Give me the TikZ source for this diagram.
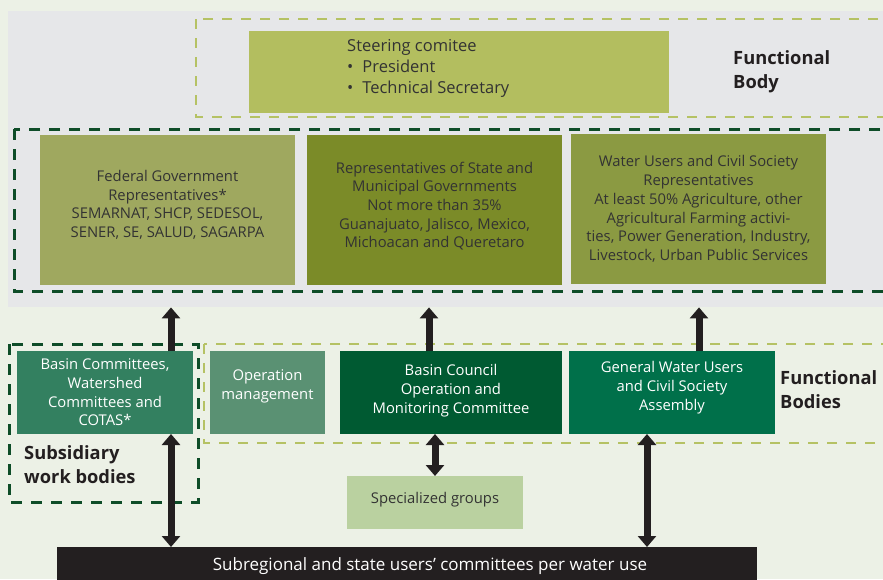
\documentclass[tikz,border=0pt]{standalone}
\usepackage{fontspec}
\setmainfont{Open Sans}
\usetikzlibrary{arrows.meta}
\definecolor{bgc}{HTML}{ECF1E6}
\definecolor{panelc}{HTML}{E6E7E9}
\definecolor{darkdash}{HTML}{0E4D28}
\definecolor{lightdash}{HTML}{B5C264}
\definecolor{steerc}{HTML}{B3BE5F}
\definecolor{fedc}{HTML}{9FA85F}
\definecolor{statec}{HTML}{7B8B28}
\definecolor{waterc}{HTML}{8B9A42}
\definecolor{basinc}{HTML}{338060}
\definecolor{opc}{HTML}{5A9173}
\definecolor{councilc}{HTML}{005A32}
\definecolor{genc}{HTML}{00704A}
\definecolor{specc}{HTML}{BAD1A0}
\definecolor{barc}{HTML}{231F20}
\definecolor{txtc}{HTML}{333333}
\tikzset{
  boxn/.style={anchor=north west, inner sep=0pt, outer sep=0pt, align=center, text=txtc, font=\fontsize{14.8}{18.7}\selectfont},
  whitebox/.style={boxn, text=white},
  darkdashed/.style={draw=darkdash, line width=3pt, dash pattern=on 11pt off 9pt},
  lightdashed/.style={draw=lightdash, line width=2.6pt, dash pattern=on 10pt off 9pt},
  uparr/.style={draw=barc, line width=7pt, -{Triangle[width=18pt,length=11pt]}},
  dblarr/.style={draw=barc, line width=7pt, {Triangle[width=18pt,length=11pt]}-{Triangle[width=18pt,length=11pt]}},
  headtxt/.style={anchor=north west, align=left, text=barc, font=\bfseries\fontsize{18.3}{24}\selectfont, inner sep=0pt},
}
\begin{document}
\begin{tikzpicture}[x=1pt,y=-1pt]
\useasboundingbox (0,0) rectangle (883,579);
\fill[bgc] (0,0) rectangle (883,579);
\node[anchor=north west, fill=panelc, minimum width=875pt, minimum height=296pt, inner sep=0pt] (panel) at (8,11) {};
% top functional body
\draw[lightdashed] (196,19) rectangle (895,117);
\node[boxn, fill=steerc, minimum width=420pt, minimum height=82pt] (steer) at (249,31) {};
\node[anchor=north west, align=left, inner sep=0pt, text=txtc, font=\fontsize{16.5}{21}\selectfont] (steertxt) at (347,39)
  {Steering comitee\\ \textbullet\hspace{9pt}President\\ \textbullet\hspace{9pt}Technical Secretary};
\node[headtxt] (fbody) at (733,50) {Functional\\Body};
% representatives
\draw[darkdashed] (14,129) rectangle (895,291);
\node[boxn, fill=fedc, minimum width=255pt, minimum height=150pt] (fed) at (40,135)
  {Federal Government\\Representatives*\\SEMARNAT, SHCP, SEDESOL,\\SENER, SE, SALUD, SAGARPA\\[-6.5pt]};
\node[boxn, fill=statec, minimum width=255pt, minimum height=150pt] (state) at (307,135)
  {Representatives of State and\\Municipal Governments\\Not more than 35\%\\Guanajuato, Jalisco, Mexico,\\Michoacan and Queretaro\\[-8.5pt]};
\node[boxn, fill=waterc, minimum width=255pt, minimum height=150pt] (water) at (571,134)
  {Water Users and Civil Society\\Representatives\\At least 50\% Agriculture, other\\Agricultural Farming activi-\\ties, Power Generation, Industry,\\Livestock, Urban Public Services};
% lower
\draw[darkdashed] (9,344) rectangle (198,502);
\draw[lightdashed] (204,344) rectangle (895,443);
\node[whitebox, fill=basinc, minimum width=176pt, minimum height=83pt] (basin) at (17,351)
  {Basin Committees,\\Watershed\\Committees and\\COTAS*};
\node[whitebox, fill=opc, minimum width=115pt, minimum height=83pt] (oper) at (210,351)
  {Operation\\management\\[-3.5pt]};
\node[whitebox, fill=councilc, minimum width=222pt, minimum height=83pt] (council) at (340,351)
  {Basin Council\\Operation and\\Monitoring Committee\\[-11.5pt]};
\node[whitebox, fill=genc, minimum width=206pt, minimum height=83pt] (general) at (569,351)
  {General Water Users\\and Civil Society\\Assembly\\[-5.5pt]};
\node[headtxt] (fbodies) at (780,370) {Functional\\Bodies};
\node[headtxt] (subs) at (24,445) {Subsidiary\\work bodies};
\node[boxn, fill=specc, minimum width=176pt, minimum height=53pt] (spec) at (347,476) {Specialized groups\\[-9.5pt]};
\node[anchor=north west, fill=barc, minimum width=700pt, minimum height=40pt, inner sep=0pt] (bar) at (57,547) {};
\node[text=white, font=\fontsize{17}{18}\selectfont, inner sep=0pt] (bartxt) at (430,566) {Subregional and state users' committees per water use};
% arrows
\coordinate (a1) at (171,0);
\coordinate (a2) at (429,0);
\coordinate (a3) at (699,0);
\coordinate (a4) at (435,0);
\coordinate (a5) at (647,0);
\draw[uparr] (a1 |- basin.north) -- (a1 |- panel.south);
\draw[uparr] (a2 |- council.north) -- (a2 |- panel.south);
\draw[uparr] (a3 |- general.north) -- (a3 |- panel.south);
\draw[dblarr] (a1 |- basin.south) -- (a1 |- bar.north);
\draw[dblarr] (a4 |- council.south) -- (a4 |- spec.north);
\draw[dblarr] (a5 |- general.south) -- (a5 |- bar.north);
\end{tikzpicture}
\end{document}
